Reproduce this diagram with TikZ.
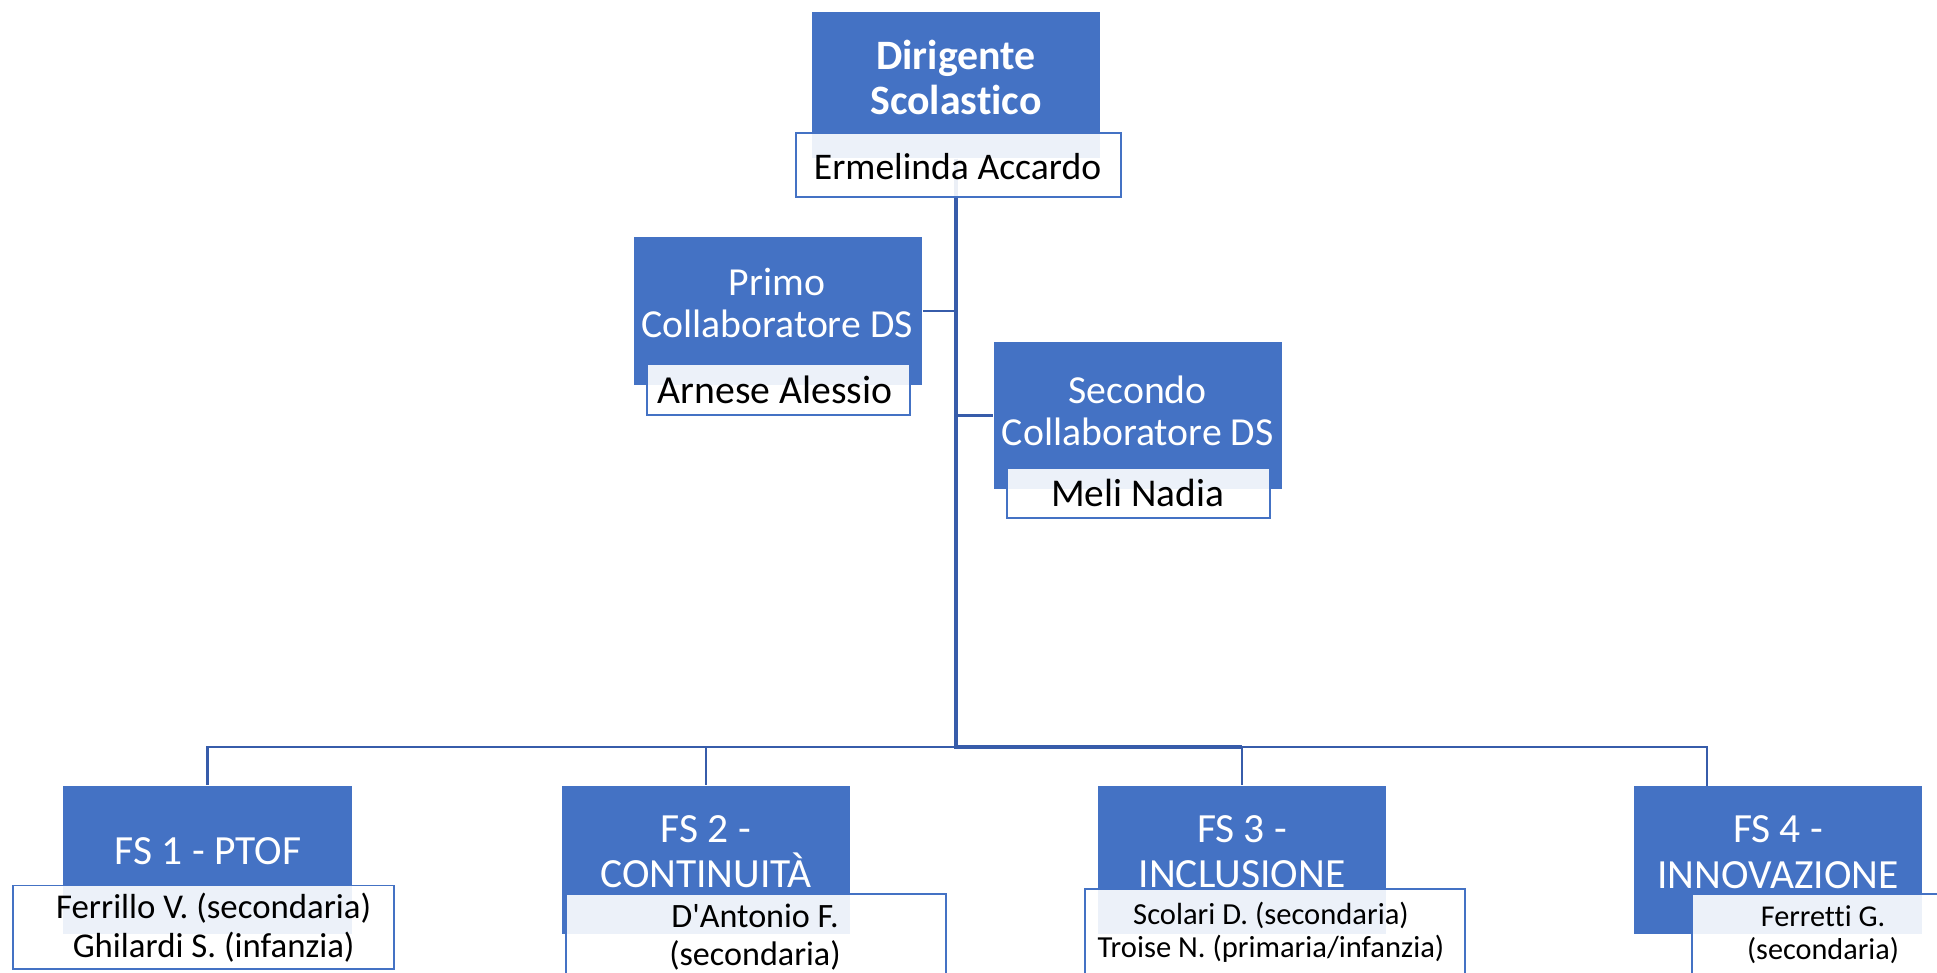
\documentclass[tikz,border=0pt]{standalone}
\usepackage{fontspec}
\setmainfont{Carlito}[Ligatures=NoCommon]
\definecolor{boxblue}{RGB}{68,114,196}
\definecolor{linkblue}{RGB}{55,92,170}
\tikzset{
  bluebox/.style={fill=boxblue, draw=none, inner sep=0pt, minimum width=2.885cm, minimum height=1.48cm},
  namebox/.style={draw=boxblue, line width=0.55pt, fill=white, fill opacity=0.9, draw opacity=1, inner sep=0pt},
  ttl/.style={text=white, align=center, inner sep=0pt},
  nm/.style={text=black, align=center, inner sep=0pt},
  link/.style={draw=linkblue, line width=0.6pt},
  trunk/.style={draw=linkblue, line width=0.9pt},
}
\begin{document}
\begin{tikzpicture}[x=0.01cm,y=-0.01cm]
\useasboundingbox[fill=white] (0,0) rectangle (1937,972);

% blue boxes
\node[bluebox, minimum height=1.46cm] (ds) at (956,85) {};
\node[bluebox] (primo) at (778,311) {};
\node[bluebox, minimum height=1.47cm] (sec) at (1138,415.5) {};
\node[bluebox] (fs1) at (207.5,860) {};
\node[bluebox] (fs2) at (706,860) {};
\node[bluebox] (fs3) at (1242,860) {};
\node[bluebox] (fs4) at (1778,860) {};

% connectors
\coordinate (bar) at (956,747);
\coordinate (fs4in) at (1707,786);
\draw[trunk] (bar |- ds.south) -- (bar) -- (bar -| fs3.north);
\draw[link] (primo.east) -- (primo.east -| bar);
\draw[link] (sec.west) -- (sec.west -| bar);
\draw[link] (bar) -| (fs1.north);
\draw[link] (bar) -| (fs2.north);
\draw[link] (bar) -| (fs3.north);
\draw[link] (bar) -| (fs4in);

% name boxes
\node[namebox, minimum width=3.25cm, minimum height=0.64cm] (dsw) at (958.5,165) {};
\node[namebox, minimum width=2.63cm, minimum height=0.51cm] (primow) at (778.5,389.5) {};
\node[namebox, minimum width=2.63cm, minimum height=0.50cm] (secw) at (1138.3,492.8) {};
\node[namebox, minimum width=3.805cm, minimum height=0.83cm] (fs1w) at (203.8,927) {};
\node[namebox, minimum width=3.80cm, minimum height=1.2cm] (fs2w) at (756,954) {};
\node[namebox, minimum width=3.80cm, minimum height=1.2cm] (fs3w) at (1274.8,949.4) {};
\node[namebox, minimum width=2.62cm, minimum height=1.2cm] (fs4w) at (1823,954) {};

% titles
\node[ttl, font=\fontsize{11.9}{12.8}\selectfont\bfseries] (dst) at (956,77) {Dirigente\\Scolastico};
\node[ttl, font=\fontsize{11.3}{11.95}\selectfont] (primot) at (777,302.6) {Primo\\Collaboratore DS};
\node[ttl, font=\fontsize{11.3}{11.95}\selectfont] (sect) at (1137.7,411) {Secondo\\Collaboratore DS};
\node[ttl, font=\fontsize{11.8}{13}\selectfont] (fs1t) at (208,851) {FS 1 - PTOF};
\node[ttl, font=\fontsize{11.8}{13}\selectfont] (fs2t) at (706,851.8) {FS 2 -\\CONTINUITÀ};
\node[ttl, font=\fontsize{11.8}{13}\selectfont] (fs3t) at (1242,851.8) {FS 3 -\\INCLUSIONE};
\node[ttl, font=\fontsize{11.8}{13}\selectfont] (fs4t) at (1778,851.8) {FS 4 -\\INNOVAZIONE};

% names
\node[nm, font=\fontsize{10.7}{12}\selectfont] (dsn) at (957.5,167) {Ermelinda Accardo};
\node[nm, font=\fontsize{11.3}{12}\selectfont] (primon) at (775,390) {Arnese Alessio};
\node[nm, font=\fontsize{11.2}{12}\selectfont] (secn) at (1137.7,493) {Meli Nadia};
\node[nm, font=\fontsize{9.9}{11.2}\selectfont] (fs1n) at (213.7,927.8) {Ferrillo V. (secondaria)\\Ghilardi S. (infanzia)};
\node[nm, font=\fontsize{9.7}{10.8}\selectfont] (fs2n) at (755,937) {D\textquotesingle Antonio F.\\(secondaria)};
\node[nm, font=\fontsize{8.7}{9.4}\selectfont] (fs3n) at (1271,931.9) {Scolari D. (secondaria)\\Troise N. (primaria/infanzia)};
\node[nm, font=\fontsize{8.6}{9.4}\selectfont] (fs4n) at (1823,934.5) {Ferretti G.\\(secondaria)};
\end{tikzpicture}
\end{document}
